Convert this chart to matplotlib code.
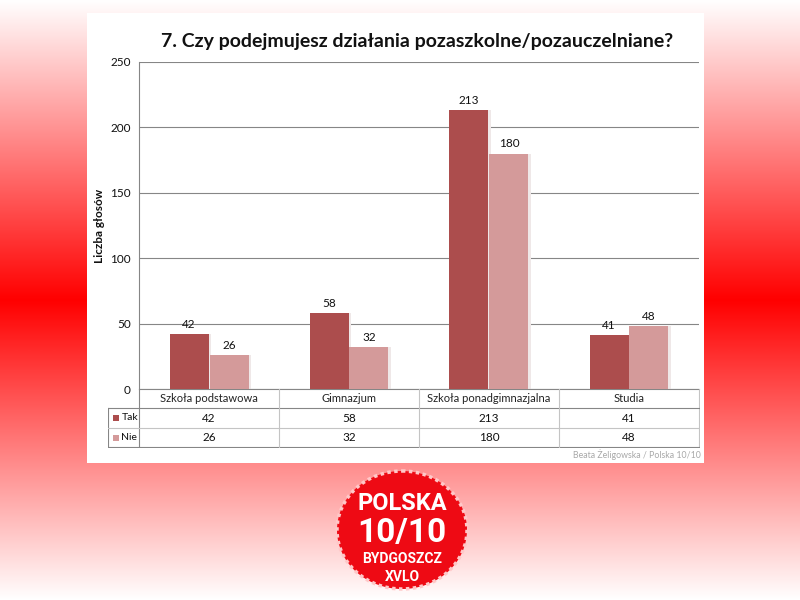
import numpy as np
import matplotlib
matplotlib.use("Agg")
import matplotlib.pyplot as plt
from matplotlib.patches import Rectangle, Ellipse

categories = ["Szkoła podstawowa", "Gimnazjum", "Szkoła ponadgimnazjalna", "Studia"]
series_names = ["Tak", "Nie"]
tak = [42, 58, 213, 41]
nie = [26, 32, 180, 48]
y_ticks = [0, 50, 100, 150, 200, 250]
title = "7. Czy podejmujesz działania pozaszkolne/pozauczelniane?"
ylabel = "Liczba głosów"
footer = "Beata Żeligowska / Polska 10/10"
col_tak = "#AC4D4D"
col_nie = "#D49A9A"
font = "Lato"

plt.rcParams["font.family"] = [font, "DejaVu Sans"]
W, H = 800, 600
fig = plt.figure(figsize=(W / 100, H / 100), dpi=100)


def px_axes(x0, y0, x1, y1, **kw):
    return fig.add_axes([x0 / W, 1 - y1 / H, (x1 - x0) / W, (y1 - y0) / H], **kw)


# page canvas in pixel coordinates
bg = px_axes(0, 0, W, H)
bg.set_xlim(0, W)
bg.set_ylim(H, 0)
bg.axis("off")
grad = np.abs(np.linspace(1, -1, 600))[:, None]
rgb = np.dstack([np.ones_like(grad), grad, grad])
bg.imshow(rgb, extent=[0, W, H, 0], aspect="auto", interpolation="bilinear", zorder=0)
bg.add_patch(Rectangle((87, 13), 617, 450, fc="white", ec="none", zorder=1))

# chart
ax = px_axes(139, 62, 699, 389)
ax.patch.set_alpha(0)
ax.set_xlim(0, len(categories))
ax.set_ylim(0, 250)
ax.set_yticks(y_ticks)
ax.set_xticks([])
ax.tick_params(axis="y", length=0, labelsize=8.5, pad=6, labelcolor="#111111")
ax.grid(axis="y", color="#868686", lw=0.8)
ax.set_axisbelow(True)
for s in ["top", "right"]:
    ax.spines[s].set_visible(False)
for s in ["left", "bottom"]:
    ax.spines[s].set_color("#868686")
    ax.spines[s].set_linewidth(0.8)
x = np.arange(len(categories)) + 0.5
bw = 40 / 140
shadow = 2 / 140
ax.bar(x - bw / 2 + shadow, tak, bw, color="#EFE8E8", zorder=2)
ax.bar(x + bw / 2 + shadow, nie, bw, color="#EFE8E8", zorder=2)
b1 = ax.bar(x - bw / 2, tak, bw - 1 / 140, color=col_tak, zorder=3)
b2 = ax.bar(x + bw / 2, nie, bw - 1 / 140, color=col_nie, zorder=3)
ax.bar_label(b1, padding=3, fontsize=8.5, color="#111111")
ax.bar_label(b2, padding=3, fontsize=8.5, color="#111111")
ax.yaxis.set_label_coords(-34 / 560, 0.5)
ax.set_ylabel(ylabel, fontsize=8.5, fontweight="bold", color="#111111")

# data table under the chart
tb = px_axes(108, 389, 700, 448)
tb.set_xlim(108, 700)
tb.set_ylim(448, 389)
tb.axis("off")
edge = "#868686"
light = "#C4C4C4"
rows = [398, 418, 437.5]
xs = [139 + 140 * i for i in range(len(categories) + 1)]
tb.plot([139, 139], [389, 447], color=edge, lw=0.8)
tb.plot([108, 108], [408, 447], color=edge, lw=0.8)
tb.plot([699, 699], [389, 447], color=light, lw=0.8)
tb.plot([108, 699], [408, 408], color=edge, lw=0.8)
tb.plot([108, 699], [428, 428], color=light, lw=0.8)
tb.plot([108, 699], [447, 447], color=edge, lw=0.8)
for xv in xs[1:-1]:
    tb.plot([xv, xv], [389, 447], color=light, lw=0.8)
for i, c in enumerate(categories):
    cx = xs[i] + 70
    tb.text(cx, rows[0], c, ha="center", va="center", fontsize=8, color="#222222")
    tb.text(cx, rows[1], str(tak[i]), ha="center", va="center", fontsize=8.5, color="#111111")
    tb.text(cx, rows[2], str(nie[i]), ha="center", va="center", fontsize=8.5, color="#111111")
for name, col, yy in zip(series_names, [col_tak, col_nie], rows[1:]):
    tb.add_patch(Rectangle((113.5, yy - 3), 5.5, 6, fc=col, ec="none"))
    tb.text(121.5, yy, name, ha="left", va="center", fontsize=7.5, color="#111111")

# title and footer
bg.text(417, 41, title, ha="center", va="center", fontsize=14, fontweight="bold", color="#111111", zorder=5)
bg.text(701, 455, footer, ha="right", va="center", fontsize=6.3, color="#A8A8A8", zorder=5)

# logo
bg.add_patch(Ellipse((402, 530), 130, 118, fc="#EE0A14", ec="#FFC8C8", lw=2.5, ls=(0, (1, 1)), zorder=5))
logo_font = ["Roboto", "DejaVu Sans"]
for txt, yy, fs in [("POLSKA", 504, 17), ("10/10", 533, 24), ("BYDGOSZCZ", 559, 10), ("XVLO", 577, 10)]:
    bg.text(402, yy, txt, ha="center", va="center", fontsize=fs, fontweight="bold", color="white", zorder=6, family=logo_font)

fig.savefig("out.png", dpi=100)
